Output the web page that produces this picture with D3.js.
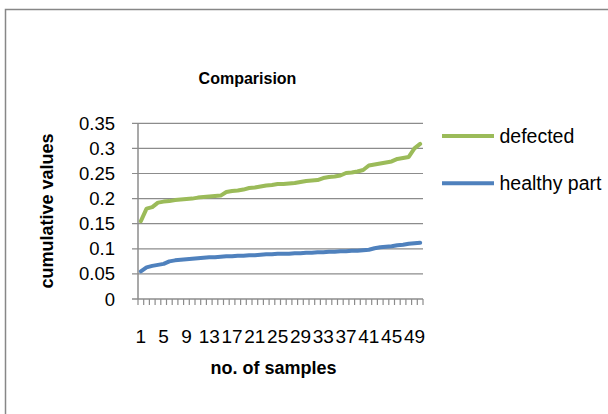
<!DOCTYPE html>
<html>
<head>
<meta charset="utf-8">
<script src="https://cdn.jsdelivr.net/npm/d3@7"></script>
<style>
  html, body { margin: 0; padding: 0; background: #fff; }
  svg { display: block; }
  text { font-family: "Liberation Sans", Arial, sans-serif; fill: #000; }
</style>
</head>
<body>
<svg id="chart" width="608" height="414"></svg>
<script>
const samples = d3.range(1, 51);
const defected = [
  0.155, 0.180, 0.183, 0.192, 0.194, 0.195, 0.197, 0.198, 0.199, 0.200,
  0.202, 0.203, 0.204, 0.205, 0.206, 0.213, 0.215, 0.216, 0.218, 0.221,
  0.222, 0.224, 0.226, 0.227, 0.229, 0.229, 0.230, 0.231, 0.233, 0.235,
  0.236, 0.237, 0.241, 0.243, 0.244, 0.246, 0.251, 0.252, 0.254, 0.257,
  0.266, 0.268, 0.270, 0.272, 0.274, 0.279, 0.281, 0.283, 0.300, 0.309
];
const healthy = [
  0.055, 0.063, 0.066, 0.068, 0.070, 0.075, 0.077, 0.078, 0.079, 0.080,
  0.081, 0.082, 0.083, 0.083, 0.084, 0.085, 0.085, 0.086, 0.086, 0.087,
  0.087, 0.088, 0.089, 0.089, 0.090, 0.090, 0.090, 0.091, 0.091, 0.092,
  0.092, 0.093, 0.093, 0.094, 0.094, 0.095, 0.095, 0.096, 0.096, 0.097,
  0.098, 0.101, 0.103, 0.104, 0.105, 0.107, 0.108, 0.110, 0.111, 0.112
];
const yTicks = [0, 0.05, 0.1, 0.15, 0.2, 0.25, 0.3, 0.35];
const xTickLabels = [1, 5, 9, 13, 17, 21, 25, 29, 33, 37, 41, 45, 49];
const seriesNames = ["defected", "healthy part"];
const seriesColors = ["#9BBB59", "#4F81BD"];

(function () {
const svg = d3.select("#chart");
const pL = 138, pR = 423, pT = 123.3, pB = 299;

// outer chart border
svg.append("rect")
  .attr("x", 5.5).attr("y", 9.5).attr("width", 640).attr("height", 440)
  .attr("fill", "none").attr("stroke", "#878787").attr("stroke-width", 1.5);

const x = d3.scaleBand().domain(samples).range([pL, pR]).padding(0);
const y = d3.scaleLinear().domain([0, 0.35]).range([pB, pT]);
const cx = d => x(d) + x.bandwidth() / 2;

// gridlines + y ticks
const gy = svg.append("g");
gy.selectAll("line.grid").data(yTicks.slice(1)).join("line")
  .attr("x1", pL - 6).attr("x2", pR)
  .attr("y1", d => y(d)).attr("y2", d => y(d))
  .attr("stroke", "#8c8c8c").attr("stroke-width", 1.2);
gy.selectAll("text").data(yTicks).join("text")
  .attr("x", 115).attr("y", d => y(d) + 6.5)
  .attr("text-anchor", "end").attr("font-size", 18.5)
  .text(d => String(+d.toFixed(2)));

// y axis line
svg.append("line")
  .attr("x1", pL).attr("x2", pL).attr("y1", pT).attr("y2", pB)
  .attr("stroke", "#8c8c8c").attr("stroke-width", 1.5);
// x axis line with left tick
svg.append("line")
  .attr("x1", pL - 6).attr("x2", pR).attr("y1", pB).attr("y2", pB)
  .attr("stroke", "#8c8c8c").attr("stroke-width", 1.5);

// x ticks at category boundaries
const bounds = samples.map(d => x(d)).concat([pR]);
svg.append("g").selectAll("line").data(bounds).join("line")
  .attr("x1", d => d).attr("x2", d => d)
  .attr("y1", pB).attr("y2", pB + 6)
  .attr("stroke", "#8c8c8c").attr("stroke-width", 1.2);

// x tick labels
svg.append("g").selectAll("text").data(xTickLabels).join("text")
  .attr("x", d => cx(d)).attr("y", 343)
  .attr("text-anchor", "middle").attr("font-size", 19)
  .text(d => d);

// lines
const line = d3.line().x((d, i) => cx(samples[i])).y(d => y(d));
[defected, healthy].forEach((s, k) => {
  svg.append("path").datum(s)
    .attr("d", line)
    .attr("fill", "none")
    .attr("stroke", seriesColors[k])
    .attr("stroke-width", 4)
    .attr("stroke-linejoin", "round")
    .attr("stroke-linecap", "round");
});

// title
svg.append("text")
  .attr("x", 247.5).attr("y", 83.5)
  .attr("text-anchor", "middle").attr("font-size", 16).attr("font-weight", "bold")
  .text("Comparision");

// axis titles
svg.append("text")
  .attr("x", 273.5).attr("y", 374)
  .attr("text-anchor", "middle").attr("font-size", 18).attr("font-weight", "bold")
  .text("no. of samples");
svg.append("text")
  .attr("transform", "translate(53,211) rotate(-90)")
  .attr("text-anchor", "middle").attr("font-size", 18).attr("font-weight", "bold")
  .text("cumulative values");

// legend
const legY = [136, 183.3];
seriesNames.forEach((name, k) => {
  svg.append("line")
    .attr("x1", 442).attr("x2", 494).attr("y1", legY[k]).attr("y2", legY[k])
    .attr("stroke", seriesColors[k]).attr("stroke-width", 4);
  svg.append("text")
    .attr("x", 499.5).attr("y", legY[k] + 7)
    .attr("font-size", 19.5)
    .text(name);
});
})();
</script>
</body>
</html>
